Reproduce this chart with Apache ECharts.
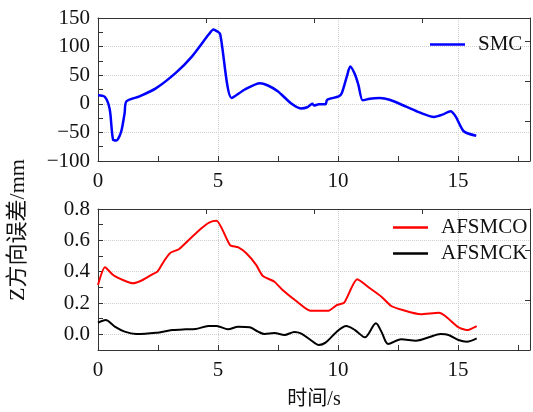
<!DOCTYPE html>
<html lang="zh">
<head>
    <meta charset="UTF-8">
    <title>Z方向误差</title>
    <style>
        html, body {
            margin: 0;
            padding: 0;
            background: #fff;
        }
        #main {
            width: 533px;
            height: 412px;
        }
    </style>
    <script type="text/javascript" src="https://cdn.jsdelivr.net/npm/echarts@6/dist/echarts.min.js"></script>
</head>
<body>
<div id="main"></div>
<script type="text/javascript">
    // SMC (top plot)
    var smcT = [0,0.29,0.49,0.63,0.77,0.97,1.11,1.18,1.73,2.41,3.24,3.92,4.61,4.81,4.95,5.09,5.57,6.12,6.75,7.08,7.49,8.04,8.45,8.72,8.93,9.0,9.2,9.48,9.55,10.03,10.16,10.37,10.51,10.71,10.85,11.03,11.33,11.74,12.15,12.84,13.39,14.0,14.35,14.69,14.9,15.24,15.76];
    var smcV = [15,12,-10,-63,-64,-48,-16,4,13,27,54,83,121,130,127,122,10,25,36,32,22,1,-8,-6,0,-3,-1,-1,7,13,19,48,65,51,33,6,9,10,7,-5,-15,-23,-19,-13,-22,-48,-56];
    // AFSMCO (bottom plot)
    var afoT = [0,0.29,0.63,1.04,1.45,1.86,2.28,2.48,2.76,3.02,3.37,3.78,4.31,4.65,4.94,5.5,5.83,6.18,6.59,6.87,7.35,7.69,8.3,8.85,9.6,9.95,10.26,10.8,11.33,11.81,12.22,12.7,13.45,14.2,14.47,15.02,15.37,15.78];
    var afoV = [0.315,0.428,0.379,0.347,0.326,0.347,0.385,0.4,0.47,0.521,0.543,0.602,0.677,0.715,0.725,0.57,0.556,0.517,0.443,0.372,0.336,0.283,0.208,0.151,0.151,0.187,0.202,0.351,0.294,0.24,0.181,0.155,0.128,0.138,0.117,0.045,0.027,0.053];
    // AFSMCK (bottom plot)
    var afkT = [0,0.32,0.7,1.11,1.59,2.41,3.1,3.65,4.06,4.6,4.94,5.42,5.84,6.32,6.67,6.94,7.35,7.77,8.18,8.45,8.86,9.2,9.48,9.95,10.34,10.71,11.12,11.58,11.81,12.09,12.63,13.25,13.79,14.27,14.61,15.02,15.37,15.78];
    var afkV = [0.074,0.091,0.049,0.017,0.002,0.01,0.027,0.032,0.034,0.053,0.053,0.032,0.049,0.045,0.017,0.002,0.008,-0.004,0.015,0.006,-0.036,-0.068,-0.053,0.017,0.053,0.027,-0.019,0.07,0.017,-0.062,-0.032,-0.041,-0.019,0.002,-0.004,-0.036,-0.047,-0.026];

    var xTicks = [0, 5, 10, 15];
    var topTicks = [-100, -50, 0, 50, 100, 150];
    var bottomTicks = [0, 0.2, 0.4, 0.6, 0.8];

    function pairs(t, v) {
        return t.map(function (x, i) { return [x, v[i]]; });
    }

    var FONT = '"Liberation Serif", "Noto Sans CJK SC", serif';
    var axisCol = '#333';
    var gridCol = '#cfcfcf';

    function xAxisMain(gridIndex) {
        return {
            type: 'value', gridIndex: gridIndex, position: 'bottom',
            min: 0, max: 18, interval: 2.5,
            axisLine: {show: true, onZero: false, lineStyle: {color: axisCol, width: 1}},
            axisTick: {show: true, inside: true, length: 5, lineStyle: {color: axisCol}},
            axisLabel: {
                margin: 10, color: '#111', fontFamily: FONT, fontSize: 21,
                formatter: function (v) { return xTicks.indexOf(v) >= 0 ? String(v) : ''; }
            },
            splitLine: {show: true, lineStyle: {type: 'dotted', color: [gridCol, 'transparent']}}
        };
    }
    function xAxisTop(gridIndex) {
        return {
            type: 'value', gridIndex: gridIndex, position: 'top',
            min: 0, max: 18, interval: 4.5,
            axisLine: {show: true, onZero: false, lineStyle: {color: axisCol, width: 1}},
            axisTick: {show: true, inside: true, length: 5, lineStyle: {color: axisCol}},
            axisLabel: {show: false},
            splitLine: {show: false}
        };
    }
    function yAxisRight(gridIndex, max, interval) {
        return {
            type: 'value', gridIndex: gridIndex, position: 'right',
            min: 0, max: max, interval: interval,
            axisLine: {show: true, onZero: false, lineStyle: {color: axisCol, width: 1}},
            axisTick: {show: true, inside: true, length: 5, lineStyle: {color: axisCol}},
            axisLabel: {show: false},
            splitLine: {show: false}
        };
    }

    var chart = echarts.init(document.getElementById('main'));
    var bottomX = xAxisMain(1);
    bottomX.name = '时间/s';
    bottomX.nameLocation = 'middle';
    bottomX.nameGap = 40;
    bottomX.nameTextStyle = {fontFamily: FONT, fontSize: 20, color: '#111'};

    var option = {
        animation: false,
        backgroundColor: '#fff',
        grid: [
            {left: 98, top: 18, width: 437, height: 143},
            {left: 98, top: 209, width: 437, height: 141}
        ],
        xAxis: [xAxisMain(0), bottomX, xAxisTop(0), xAxisTop(1)],
        yAxis: [
            {
                type: 'value', gridIndex: 0, min: -100, max: 150, interval: 25,
                axisLine: {show: true, onZero: false, lineStyle: {color: axisCol, width: 1}},
                axisTick: {show: true, inside: true, length: 5, lineStyle: {color: axisCol}},
                axisLabel: {
                    margin: 8, color: '#111', fontFamily: FONT, fontSize: 21,
                    formatter: function (v) {
                        if (topTicks.indexOf(v) < 0) return '';
                        return v < 0 ? '\u2212' + Math.abs(v) : String(v);
                    }
                },
                splitLine: {show: true, lineStyle: {type: 'dotted', color: [gridCol, 'transparent']}}
            },
            {
                type: 'value', gridIndex: 1, min: -0.1, max: 0.8, interval: 0.1,
                axisLine: {show: true, onZero: false, lineStyle: {color: axisCol, width: 1}},
                axisTick: {show: true, inside: true, length: 5, lineStyle: {color: axisCol}},
                axisLabel: {
                    margin: 8, color: '#111', fontFamily: FONT, fontSize: 21,
                    formatter: function (v) {
                        var n = Math.round(v * 10) / 10;
                        return bottomTicks.indexOf(n) >= 0 ? n.toFixed(1) : '';
                    }
                },
                splitLine: {show: true, lineStyle: {type: 'dotted', color: ['transparent', gridCol]}}
            },
            yAxisRight(0, 143, 40),
            yAxisRight(1, 141, 50)
        ],
        legend: [
            {
                data: ['SMC'], left: 430, top: 34, orient: 'vertical', padding: 0,
                icon: 'rect', itemWidth: 35, itemHeight: 2.5,
                textStyle: {fontFamily: FONT, fontSize: 21, color: '#111', padding: [0, 0, 0, 8]}
            },
            {
                data: ['AFSMCO', 'AFSMCK'], left: 393, top: 217, orient: 'vertical', padding: 0,
                icon: 'rect', itemWidth: 35, itemHeight: 2.5, itemGap: 5,
                textStyle: {fontFamily: FONT, fontSize: 21, color: '#111', padding: [0, 0, 0, 8]}
            }
        ],
        graphic: [
            {
                type: 'text', x: 18, y: 230, rotation: Math.PI / 2,
                style: {
                    text: 'Z方向误差/mm', font: '22px ' + FONT, fill: '#111',
                    textAlign: 'center', textVerticalAlign: 'middle'
                }
            }
        ],
        series: [
            {
                name: 'SMC', type: 'line', xAxisIndex: 0, yAxisIndex: 0,
                data: pairs(smcT, smcV), showSymbol: false, smooth: 0.25,
                lineStyle: {color: '#0000ff', width: 2.5}, itemStyle: {color: '#0000ff'}
            },
            {
                name: 'AFSMCO', type: 'line', xAxisIndex: 1, yAxisIndex: 1,
                data: pairs(afoT, afoV), showSymbol: false, smooth: 0.2,
                lineStyle: {color: '#ff0000', width: 2}, itemStyle: {color: '#ff0000'}
            },
            {
                name: 'AFSMCK', type: 'line', xAxisIndex: 1, yAxisIndex: 1,
                data: pairs(afkT, afkV), showSymbol: false, smooth: 0.3,
                lineStyle: {color: '#000000', width: 2}, itemStyle: {color: '#000000'}
            }
        ]
    };
    chart.setOption(option);
</script>
</body>
</html>
